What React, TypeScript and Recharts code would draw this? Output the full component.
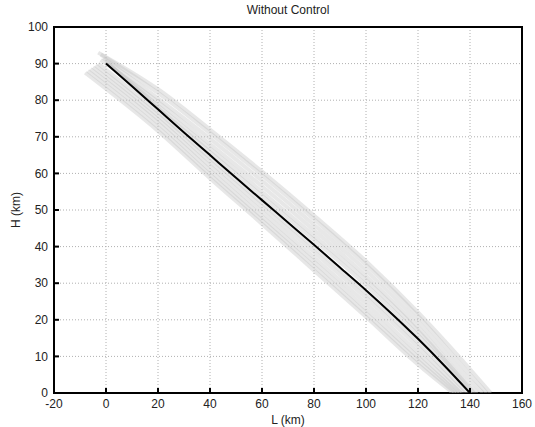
import { CartesianGrid, Line, LineChart, ReferenceArea, XAxis, YAxis } from "recharts";

// axis ticks
const lTicks = [-20, 0, 20, 40, 60, 80, 100, 120, 140, 160];
const hTicks = [0, 10, 20, 30, 40, 50, 60, 70, 80, 90, 100];

// nominal trajectory (black)
const nominalL = [0, 10, 20, 30, 40, 50, 60, 70, 80, 90, 100, 110, 120, 130, 140];
const nominalH = [90, 83.8, 77.5, 71.2, 65, 58.8, 52.7, 46.6, 40.5, 34.3, 28.1, 21.6, 14.8, 7.6, 0];

// dispersed trajectories (grey band), [L, H] pairs
const run1: [number, number][] = [[-3, 93], [20, 83], [40, 72], [60, 60.5], [80, 48.5], [100, 36], [120, 22], [140, 6.5], [148, 0]];
const run2: [number, number][] = [[-2, 92.5], [20, 82], [40, 71], [60, 59.5], [80, 47.5], [100, 35], [120, 21], [140, 5], [146.5, 0]];
const run3: [number, number][] = [[-1, 91.5], [20, 80.5], [40, 69.5], [60, 58], [80, 46], [100, 33.5], [120, 19.5], [140, 3.5], [145, 0]];
const run4: [number, number][] = [[-2, 91], [20, 79.5], [40, 68], [60, 56.5], [80, 44.5], [100, 32], [120, 18], [140, 2], [143, 0]];
const run5: [number, number][] = [[0, 90.5], [20, 78.5], [40, 66.8], [60, 55], [80, 43], [100, 30.8], [120, 17], [141.5, 0]];
const run6: [number, number][] = [[1, 90], [20, 77.8], [40, 65.8], [60, 53.8], [80, 41.8], [100, 29.5], [120, 15.8], [140.5, 0]];
const run7: [number, number][] = [[-3, 90], [20, 76.8], [40, 64.3], [60, 52], [80, 39.8], [100, 27.3], [120, 13.8], [139, 0]];
const run8: [number, number][] = [[-4, 89.5], [20, 75.8], [40, 63.2], [60, 50.8], [80, 38.5], [100, 26], [120, 12.5], [137.5, 0]];
const run9: [number, number][] = [[-5, 89], [20, 74.8], [40, 62], [60, 49.5], [80, 37], [100, 24.5], [120, 11], [136.5, 0]];
const run10: [number, number][] = [[-6, 88.5], [20, 73.8], [40, 60.8], [60, 48.2], [80, 35.8], [100, 23], [120, 9.8], [135.5, 0]];
const run11: [number, number][] = [[-7, 88], [20, 72.6], [40, 59.7], [60, 47.2], [80, 34.6], [100, 21.8], [120, 8.8], [134.5, 0]];
const run12: [number, number][] = [[-8, 87.5], [20, 71.6], [40, 58.7], [60, 46.2], [80, 33.5], [100, 20.8], [120, 7.8], [133.5, 0]];

const runs = [run1, run2, run3, run4, run5, run6, run7, run8, run9, run10, run11, run12];

const nominal = nominalL.map((l, i) => ({ x: l, y: nominalH[i] }));
const runData = runs.map((r) => r.map(([x, y]) => ({ x, y })));

const font = "'Liberation Sans', Arial, Helvetica, sans-serif";
const GAP = 6; // distance from axis to label
const TICK = 5; // inward tick length

type TickProps = { x?: number | string; y?: number | string; payload?: { value: number } };

const bottomTick = ({ x = 0, y = 0, payload }: TickProps) => {
  const tx = Number(x);
  const ay = Number(y) - GAP;
  return (
    <g>
      <rect x={tx - 1} y={ay - TICK} width={2} height={TICK} fill="#000" />
      <text x={tx} y={Number(y)} dy="0.71em" textAnchor="middle" fill="#222" fontSize={12} fontFamily={font}>
        {payload?.value}
      </text>
    </g>
  );
};

const leftTick = ({ x = 0, y = 0, payload }: TickProps) => {
  const ax = Number(x) + GAP;
  const ty = Number(y);
  return (
    <g>
      <rect x={ax} y={ty - 1} width={TICK} height={2} fill="#000" />
      <text x={Number(x)} y={ty} dy="0.355em" textAnchor="end" fill="#222" fontSize={12} fontFamily={font}>
        {payload?.value}
      </text>
    </g>
  );
};

const topTick = ({ x = 0, y = 0 }: TickProps) => {
  const tx = Number(x);
  const ay = Number(y) + GAP;
  return <rect x={tx - 1} y={ay} width={2} height={TICK} fill="#000" />;
};

const rightTick = ({ x = 0, y = 0 }: TickProps) => {
  const ax = Number(x) - GAP;
  const ty = Number(y);
  return <rect x={ax - TICK} y={ty - 1} width={TICK} height={2} fill="#000" />;
};

export default function App() {
  return (
    <div style={{ position: "relative", width: 535, height: 427, background: "#fff", overflow: "hidden" }}>
      <style>{`body{margin:0}`}</style>
      <div
        style={{
          position: "absolute",
          left: 54,
          width: 468,
          top: 3,
          textAlign: "center",
          fontFamily: font,
          fontSize: 12,
          color: "#222",
        }}
      >
        Without Control
      </div>
      <div
        style={{
          position: "absolute",
          left: 16,
          top: 210,
          transform: "translate(-50%, -50%) rotate(-90deg)",
          fontFamily: font,
          fontSize: 12,
          color: "#222",
          whiteSpace: "nowrap",
        }}
      >
        H (km)
      </div>
      <LineChart
        width={535}
        height={427}
        margin={{ top: 27, right: 13, bottom: 0, left: 0 }}
      >
        <CartesianGrid stroke="#b0b0b0" strokeDasharray="1 2" />
        {/* grey runs use the top/right axes (same domains) so those axes get drawn */}
        {runData.map((d, i) => (
          <Line
            key={i}
            data={d}
            dataKey="y"
            xAxisId="top"
            yAxisId="right"
            type="monotone"
            stroke="#c4c4c4"
            strokeWidth={4}
            strokeOpacity={0.4}
            dot={false}
            activeDot={false}
            isAnimationActive={false}
          />
        ))}
        <Line
          data={nominal}
          dataKey="y"
          type="monotone"
          stroke="#000"
          strokeWidth={2}
          dot={false}
          activeDot={false}
          isAnimationActive={false}
        />
        <ReferenceArea
          x1={-20}
          x2={160}
          y1={0}
          y2={100}
          fill="none"
          fillOpacity={0}
          stroke="#000"
          strokeWidth={2}
          strokeOpacity={1}
        />
        <XAxis
          type="number"
          dataKey="x"
          domain={[-20, 160]}
          ticks={lTicks}
          allowDataOverflow
          height={34}
          axisLine={false}
          tickLine={false}
          tickSize={0}
          tickMargin={GAP}
          tick={bottomTick}
          label={{
            value: "L (km)",
            position: "insideBottom",
            offset: 3,
            style: { fill: "#222", fontSize: 12, fontFamily: font },
          }}
        />
        <XAxis
          xAxisId="top"
          orientation="top"
          type="number"
          dataKey="x"
          domain={[-20, 160]}
          ticks={lTicks}
          allowDataOverflow
          height={0}
          axisLine={false}
          tickLine={false}
          tickSize={0}
          tickMargin={GAP}
          tick={topTick}
        />
        <YAxis
          type="number"
          domain={[0, 100]}
          ticks={hTicks}
          allowDataOverflow
          width={54}
          axisLine={false}
          tickLine={false}
          tickSize={0}
          tickMargin={GAP}
          tick={leftTick}
        />
        <YAxis
          yAxisId="right"
          orientation="right"
          type="number"
          domain={[0, 100]}
          ticks={hTicks}
          allowDataOverflow
          width={0}
          axisLine={false}
          tickLine={false}
          tickSize={0}
          tickMargin={GAP}
          tick={rightTick}
        />
      </LineChart>
    </div>
  );
}
